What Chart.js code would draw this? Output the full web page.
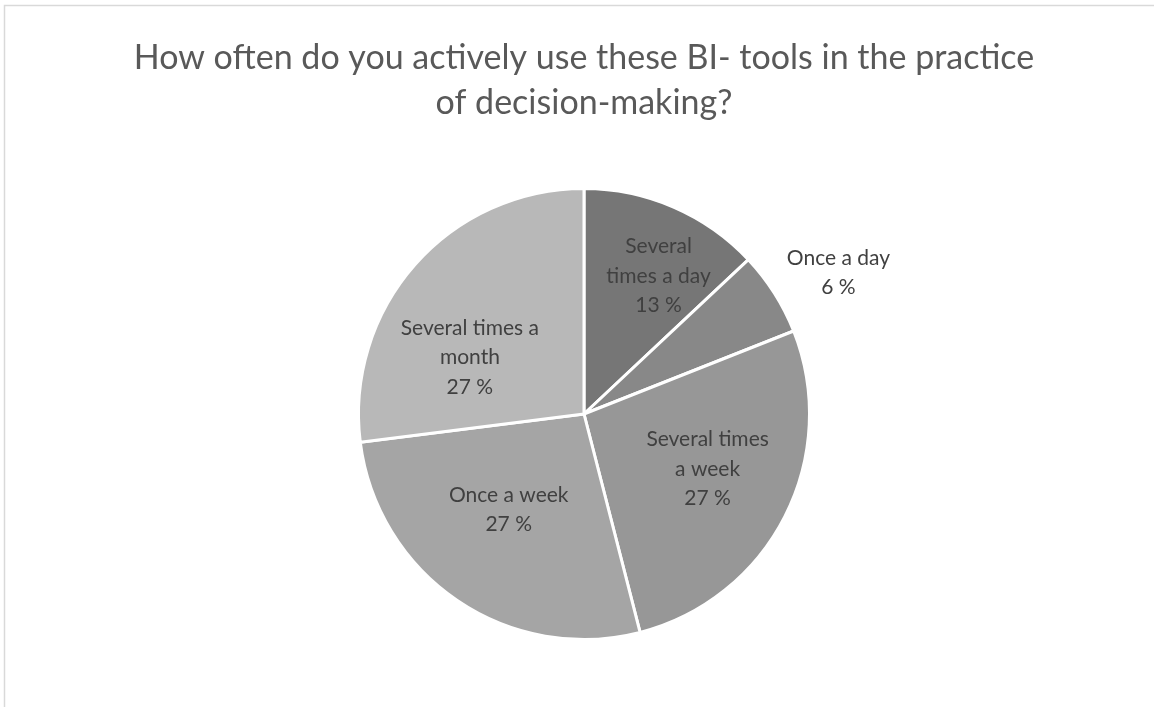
<!DOCTYPE html>
<html>
<head>
<meta charset="utf-8">
<script src="https://cdn.jsdelivr.net/npm/chart.js@4.4.1/dist/chart.umd.min.js"></script>
<style>
  html, body { margin: 0; padding: 0; background: #ffffff; }
  #wrap { position: relative; width: 1154px; height: 707px; }
</style>
</head>
<body>
<div id="wrap"><canvas id="chart" width="1154" height="707"></canvas></div>
<script>
// Survey answers and their shares (percent)
const categories = ['Several times a day', 'Once a day', 'Several times a week', 'Once a week', 'Several times a month'];
const shares = [13, 6, 27, 27, 27];
const labelLines = [
  ['Several', 'times a day'],
  ['Once a day'],
  ['Several times', 'a week'],
  ['Once a week'],
  ['Several times a', 'month']
];
const titleLines = ['How often do you actively use these BI- tools in the practice', 'of decision-making?'];

// Visual styling
const sliceColors = ['#767676', '#888888', '#979797', '#a5a5a5', '#b8b8b8'];
// Label placement per slice: radius as fraction of the pie radius, angle shift in degrees
const labelPlacement = [
  { r: 0.695, da: 5 },
  { r: 1.29, da: 3.4 },
  { r: 0.60, da: -3 },
  { r: 0.54, da: 4 },
  { r: 0.565, da: -15 }
];
const FONT = 'Lato, "Open Sans", sans-serif';

const framePlugin = {
  id: 'frame',
  beforeDraw(chart) {
    const { ctx, width, height } = chart;
    ctx.save();
    ctx.fillStyle = '#ffffff';
    ctx.fillRect(0, 0, width, height);
    ctx.strokeStyle = '#d9d9d9';
    ctx.lineWidth = 1.5;
    ctx.beginPath();
    ctx.moveTo(4.5, height);
    ctx.lineTo(4.5, 5.5);
    ctx.lineTo(width, 5.5);
    ctx.stroke();
    // title
    const cx = (chart.chartArea.left + chart.chartArea.right) / 2;
    ctx.fillStyle = '#595959';
    ctx.font = '34px ' + FONT;
    ctx.textAlign = 'center';
    ctx.textBaseline = 'middle';
    titleLines.forEach((t, i) => ctx.fillText(t, cx, 58 + i * 45));
    ctx.restore();
  }
};

const sliceLabelPlugin = {
  id: 'sliceLabels',
  afterDatasetsDraw(chart) {
    const { ctx } = chart;
    const meta = chart.getDatasetMeta(0);
    ctx.save();
    ctx.font = '21px ' + FONT;
    ctx.textAlign = 'center';
    ctx.textBaseline = 'middle';
    meta.data.forEach((arc, i) => {
      const p = arc.getProps(['x', 'y', 'startAngle', 'endAngle', 'outerRadius'], true);
      const mid = (p.startAngle + p.endAngle) / 2 + labelPlacement[i].da * Math.PI / 180;
      const rr = p.outerRadius * labelPlacement[i].r;
      const lx = p.x + Math.cos(mid) * rr;
      const ly = p.y + Math.sin(mid) * rr;
      const lines = labelLines[i].concat([shares[i] + ' %']);
      const lh = 29.5;
      const y0 = ly - (lines.length - 1) * lh / 2;
      ctx.fillStyle = '#404040';
      lines.forEach((t, k) => ctx.fillText(t, lx, y0 + k * lh));
    });
    ctx.restore();
  }
};

new Chart(document.getElementById('chart'), {
  type: 'pie',
  data: {
    labels: categories,
    datasets: [{
      data: shares,
      backgroundColor: sliceColors,
      borderColor: '#ffffff',
      borderWidth: 3
    }]
  },
  options: {
    responsive: false,
    animation: false,
    layout: { padding: { top: 187, bottom: 66, left: 14, right: 0 } },
    plugins: {
      legend: { display: false },
      tooltip: { enabled: false },
      title: { display: false }
    }
  },
  plugins: [framePlugin, sliceLabelPlugin]
});
</script>
</body>
</html>
